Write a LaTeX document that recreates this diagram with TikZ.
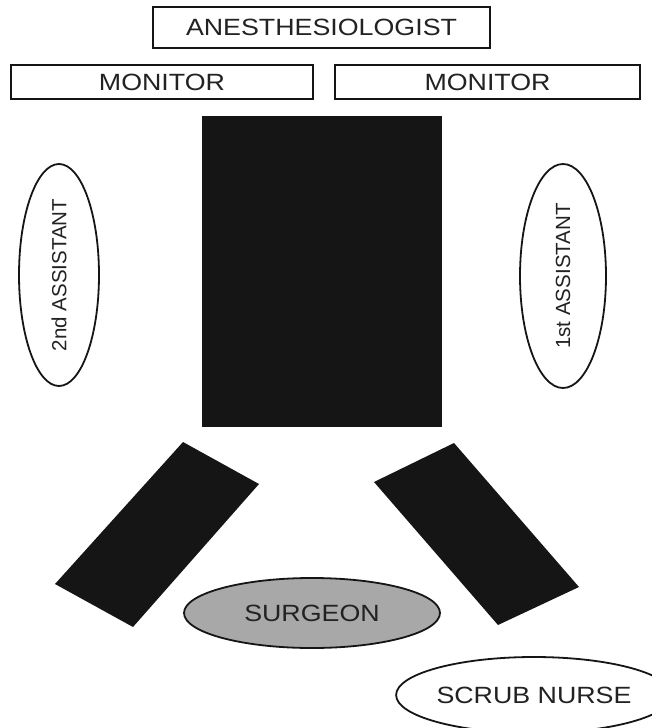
\documentclass[tikz,border=0pt]{standalone}
\usepackage{fontspec}
\setmainfont{Liberation Sans}
\usepackage{graphicx}
\usetikzlibrary{shapes.geometric}
\definecolor{ink}{HTML}{151515}
\definecolor{txt}{HTML}{222222}
\definecolor{surg}{HTML}{A8A8A8}
\newcommand{\htext}[1]{\scalebox{1.14}[1]{\fontsize{23.5}{28}\selectfont #1}}
\newcommand{\vtext}[1]{{\fontsize{20.5}{24}\selectfont #1}}
\tikzset{
  labelbox/.style={draw=ink, line width=2pt, fill=white, inner sep=0pt, text=txt},
  person/.style={ellipse, draw=ink, line width=1.8pt, fill=white, inner sep=0pt, text=txt},
  furniture/.style={fill=ink, draw=none}
}
\begin{document}
\begin{tikzpicture}[x=1pt,y=-1pt]
\useasboundingbox (0,0) rectangle (652,728);
% anesthesiologist and monitors
\node[labelbox, minimum width=337pt, minimum height=41pt] (anes) at (321.5,27.5) {\htext{ANESTHESIOLOGIST}};
\node[labelbox, minimum width=302pt, minimum height=34pt] (monl) at (162,82) {\htext{MONITOR}};
\node[labelbox, minimum width=305pt, minimum height=34pt] (monr) at (487.5,82) {\htext{MONITOR}};
% operating table
\node[furniture, minimum width=240pt, minimum height=311pt, inner sep=0pt] (table) at (322,271.5) {};
% leg boards
\fill[ink] (183,442) -- (259,484) -- (133,627) -- (55,584) -- cycle;
\fill[ink] (374,482) -- (454,443) -- (579,587) -- (498,625) -- cycle;
% assistants
\node[person, rotate=90, minimum width=222pt, minimum height=80pt] (asst2) at (59,275) {\vtext{2nd ASSISTANT}};
\node[person, rotate=90, minimum width=224pt, minimum height=86pt] (asst1) at (563,276) {\vtext{1st ASSISTANT}};
% surgeon and scrub nurse
\node[person, fill=surg, minimum width=256pt, minimum height=70pt] (surgeon) at (312,613) {\htext{SURGEON}};
\node[person, minimum width=254pt, minimum height=76pt] (nurse) at (534,695) {\htext{SCRUB NURSE}};
\end{tikzpicture}
\end{document}
